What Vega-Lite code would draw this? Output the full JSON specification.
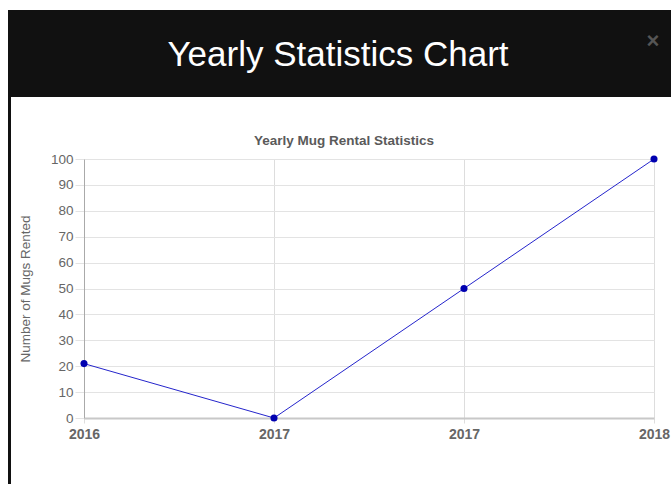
{
  "$schema": "https://vega.github.io/schema/vega-lite/v6.json",
  "padding": {"left": 8, "top": 10, "right": 0, "bottom": 0},
  "background": "white",
  "config": {"view": {"stroke": null}, "font": "Liberation Sans"},
  "spacing": 0,
  "hconcat": [
    {
      "data": {"values": [{"part": "border"}]},
      "width": 3,
      "height": 474,
      "view": {"fill": "#111111", "stroke": null},
      "mark": {"type": "rect", "color": "#111111"},
      "encoding": {}
    },
    {
      "spacing": 36,
      "vconcat": [
        {
          "data": {"values": [{"heading": "Yearly Statistics Chart", "close": "×"}]},
          "width": 660,
          "height": 87,
          "view": {"fill": "#111111", "stroke": null},
          "layer": [
            {
              "mark": {"type": "text", "fontSize": 35, "color": "#ffffff", "baseline": "middle", "align": "center", "dx": -3, "dy": 1, "font": "Liberation Sans"},
              "encoding": {"text": {"field": "heading"}}
            },
            {
              "mark": {"type": "text", "fontSize": 22, "fontWeight": "bold", "color": "#555555", "baseline": "middle", "align": "center", "dx": 312, "dy": -13, "font": "Liberation Sans"},
              "encoding": {"text": {"field": "close"}}
            }
          ]
        },
        {
          "spacing": 0,
          "hconcat": [
            {
              "data": {"values": [{"part": "gap"}]},
              "width": 7,
              "height": 1,
              "mark": {"type": "rect", "opacity": 0},
              "encoding": {}
            },
            {
              "data": {
                "values": [
                  {"period": "2016", "mugs": 21},
                  {"period": "2017 a", "mugs": 0},
                  {"period": "2017 b", "mugs": 50},
                  {"period": "2018", "mugs": 100}
                ]
              },
              "width": 570,
              "height": 259,
              "title": {
                "text": "Yearly Mug Rental Statistics",
                "fontSize": 13.5,
                "fontWeight": "bold",
                "color": "#5a5a5a",
                "frame": "bounds",
                "anchor": "middle",
                "offset": 5,
                "font": "Liberation Sans"
              },
              "encoding": {
                "x": {
                  "field": "period",
                  "type": "ordinal",
                  "sort": null,
                  "scale": {"type": "point", "padding": 0},
                  "axis": {
                    "title": null,
                    "labelAngle": 0,
                    "labelExpr": "substring(datum.label, 0, 4)",
                    "labelFontSize": 14,
                    "labelFontWeight": "bold",
                    "labelColor": "#666666",
                    "labelPadding": 4,
                    "grid": true,
                    "gridColor": "#dddddd",
                    "domainColor": "#c8c8c8",
                    "domainWidth": 2,
                    "tickColor": "#dddddd",
                    "tickSize": 5
                  }
                },
                "y": {
                  "field": "mugs",
                  "type": "quantitative",
                  "scale": {"domain": [0, 100]},
                  "axis": {
                    "title": "Number of Mugs Rented",
                    "titleFontSize": 13.5,
                    "titleFontWeight": "normal",
                    "titleColor": "#666666",
                    "titlePadding": 18,
                    "values": [0, 10, 20, 30, 40, 50, 60, 70, 80, 90, 100],
                    "labelFontSize": 13.5,
                    "labelColor": "#666666",
                    "labelPadding": 2,
                    "grid": true,
                    "gridColor": "#e3e3e3",
                    "domainColor": "#aaaaaa",
                    "tickColor": "#e3e3e3",
                    "tickSize": 9
                  }
                }
              },
              "layer": [
                {"mark": {"type": "line", "color": "#2525cc", "strokeWidth": 1}},
                {"mark": {"type": "point", "filled": true, "color": "#0000b0", "size": 50, "opacity": 1}}
              ]
            }
          ]
        }
      ]
    }
  ]
}
